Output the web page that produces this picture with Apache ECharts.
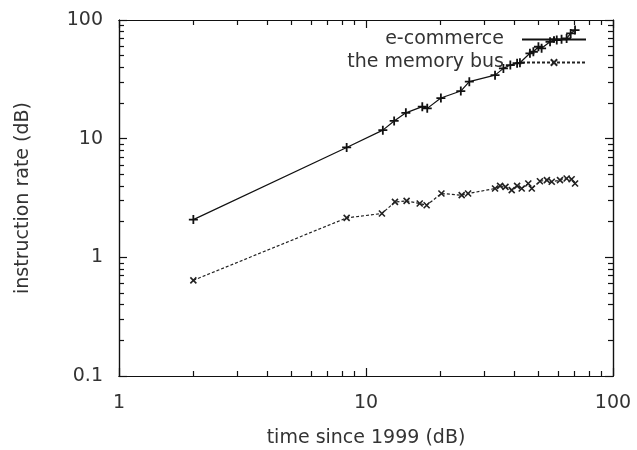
<!DOCTYPE html>
<html>
<head>
<meta charset="utf-8">
<script src="https://cdn.jsdelivr.net/npm/echarts@6/dist/echarts.min.js"></script>
<style>
html,body{margin:0;padding:0;background:#fff;}
#chart{width:637px;height:450px;}
</style>
</head>
<body>
<div id="chart"></div>
<script>
// Data
var seriesNames = ['e-commerce', 'the memory bus'];
var ecommerceX = [2.0, 8.35, 11.7, 13.0, 14.5, 16.9, 17.7, 20.1, 24.2, 26.2, 33.3, 36.0, 38.4, 40.9, 42.0, 46.1, 47.6, 49.9, 51.4, 55.6, 59.2, 61.9, 64.9, 67.4, 70.2];
var ecommerceY = [2.08, 8.43, 11.8, 14.1, 16.5, 18.6, 18.0, 22.0, 25.2, 30.2, 34.3, 39.1, 41.7, 43.2, 43.6, 52.4, 54.0, 59.5, 57.7, 65.6, 67.8, 68.7, 70.0, 77.0, 82.3];
var memoryX = [2.0, 8.35, 11.6, 13.1, 14.6, 16.5, 17.6, 20.2, 24.4, 25.9, 33.3, 34.9, 36.7, 38.9, 40.9, 42.7, 45.4, 46.9, 50.6, 54.0, 56.5, 61.0, 64.9, 68.0, 70.2];
var memoryY = [0.64, 2.15, 2.34, 2.93, 2.99, 2.84, 2.75, 3.45, 3.34, 3.45, 3.80, 4.00, 3.92, 3.68, 4.00, 3.80, 4.19, 3.80, 4.38, 4.47, 4.33, 4.47, 4.62, 4.55, 4.19];
var xMinorTicks = [2, 3, 4, 5, 6, 7, 8, 9, 20, 30, 40, 50, 60, 70, 80, 90];
var yMinorTicks = [0.2, 0.3, 0.4, 0.5, 0.6, 0.7, 0.8, 0.9, 2, 3, 4, 5, 6, 7, 8, 9, 20, 30, 40, 50, 60, 70, 80, 90];
var xRange = [1, 100];
var yRange = [0.1, 100];
var xTitle = 'time since 1999 (dB)';
var yTitle = 'instruction rate (dB)';

function zip(a, b) { return a.map(function (v, i) { return [v, b[i]]; }); }
function lg(v) { return Math.round(Math.log10(v) * 1e6) / 1e6; }

var FONT = 'DejaVu Sans';
var TXT = '#333';
var plusPath = 'path://M0,5L10,5M5,0L5,10';
var crossPath = 'path://M0,0L10,10M10,0L0,10';

function mkAxisLine() { return { show: true, onZero: false, lineStyle: { color: '#111', width: 1.2 } }; }
function mkMajorTick() { return { show: true, inside: true, length: 8, lineStyle: { color: '#111', width: 1.2 } }; }

// value axes in log10 space, only used to draw the minor ticks (2..9 per decade)
function minorAxis(pos, range, ticks) {
  return {
    type: 'value', min: lg(range[0]), max: lg(range[1]), position: pos, gridIndex: 0, offset: 0,
    axisLine: mkAxisLine(), splitLine: { show: false }, axisLabel: { show: false },
    axisTick: { show: true, inside: true, length: 5, customValues: ticks.map(lg), lineStyle: { color: '#111', width: 1.2 } }
  };
}

var chart = echarts.init(document.getElementById('chart'));
chart.setOption({
  animation: false,
  backgroundColor: '#fff',
  grid: { left: 119, top: 20, right: 24, bottom: 74, containLabel: false, outerBoundsMode: 'none' },
  xAxis: [
    {
      type: 'log', logBase: 10, min: xRange[0], max: xRange[1], position: 'bottom',
      axisLine: mkAxisLine(), axisTick: mkMajorTick(), splitLine: { show: false },
      axisLabel: { fontFamily: FONT, fontSize: 19, color: TXT, margin: 18 },
      name: xTitle, nameLocation: 'middle', nameGap: 53,
      nameTextStyle: { fontFamily: FONT, fontSize: 19, color: TXT }
    },
    {
      type: 'log', logBase: 10, min: xRange[0], max: xRange[1], position: 'top',
      axisLine: mkAxisLine(), axisTick: mkMajorTick(), splitLine: { show: false },
      axisLabel: { show: false }
    },
    minorAxis('bottom', xRange, xMinorTicks),
    minorAxis('top', xRange, xMinorTicks)
  ],
  yAxis: [
    {
      type: 'log', logBase: 10, min: yRange[0], max: yRange[1], position: 'left',
      axisLine: mkAxisLine(), axisTick: mkMajorTick(), splitLine: { show: false },
      axisLabel: { fontFamily: FONT, fontSize: 19, color: TXT, margin: 16 },
      name: yTitle, nameLocation: 'middle', nameGap: 86, nameRotate: 90,
      nameTextStyle: { fontFamily: FONT, fontSize: 19, color: TXT }
    },
    {
      type: 'log', logBase: 10, min: yRange[0], max: yRange[1], position: 'right',
      axisLine: mkAxisLine(), axisTick: mkMajorTick(), splitLine: { show: false },
      axisLabel: { show: false }
    },
    minorAxis('left', yRange, yMinorTicks),
    minorAxis('right', yRange, yMinorTicks)
  ],
  legend: [
    {
      data: [seriesNames[0]], align: 'right', right: 45, top: 25,
      itemWidth: 64, itemHeight: 8,
      textStyle: { fontFamily: FONT, fontSize: 19, color: TXT, padding: [0, 13, 0, 0] }
    },
    {
      data: [seriesNames[1]], align: 'right', right: 45, top: 48,
      itemWidth: 64, itemHeight: 8,
      textStyle: { fontFamily: FONT, fontSize: 19, color: TXT, padding: [0, 13, 0, 0] }
    }
  ],
  series: [
    {
      name: seriesNames[0], type: 'line', data: zip(ecommerceX, ecommerceY),
      symbol: plusPath, symbolSize: 9, showAllSymbol: true,
      lineStyle: { color: '#111', width: 1.2, type: 'solid' },
      itemStyle: { color: '#111', borderColor: '#111', borderWidth: 1.8 },
      z: 5
    },
    {
      name: seriesNames[1], type: 'line', data: zip(memoryX, memoryY),
      symbol: crossPath, symbolSize: 6, showAllSymbol: true,
      lineStyle: { color: '#222', width: 1.2, type: [3, 2] },
      itemStyle: { color: '#222', borderColor: '#222', borderWidth: 1.6 },
      z: 5
    }
  ]
});
</script>
</body>
</html>
